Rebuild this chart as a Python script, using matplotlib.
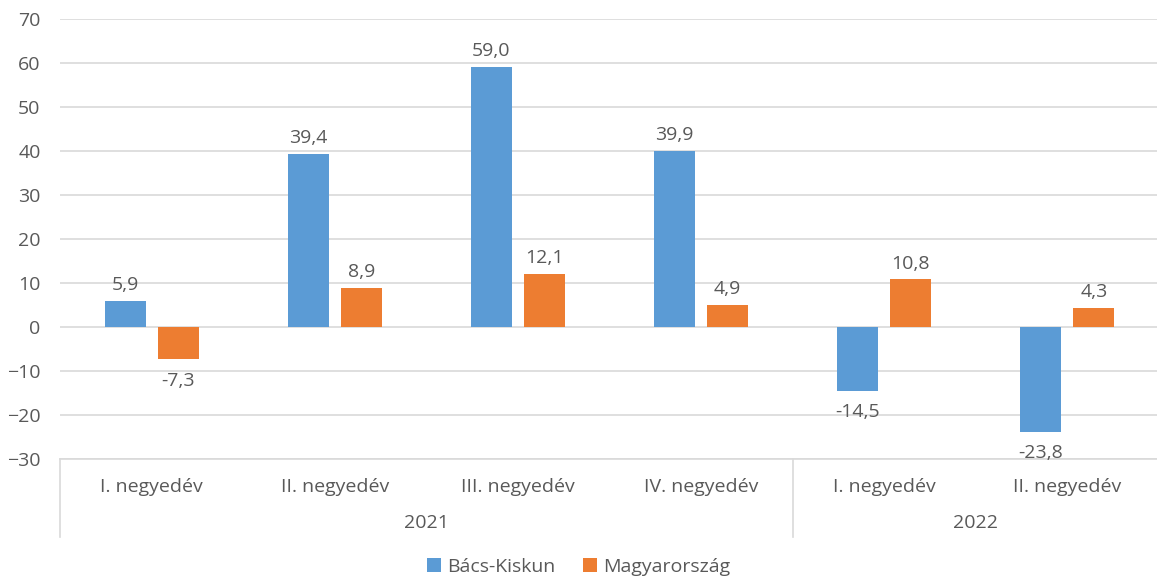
import matplotlib.pyplot as plt
import numpy as np
from matplotlib.transforms import blended_transform_factory

# Adatok
negyedevek = ['I. negyedév', 'II. negyedév', 'III. negyedév', 'IV. negyedév',
              'I. negyedév', 'II. negyedév']
evek = ['2021', '2022']
ev_hossz = [4, 2]
bacs_kiskun = [5.9, 39.4, 59.0, 39.9, -14.5, -23.8]
magyarorszag = [-7.3, 8.9, 12.1, 4.9, 10.8, 4.3]

plt.rcParams['font.family'] = ['Open Sans', 'DejaVu Sans']
szurke = '#595959'
kek = '#5B9BD5'
narancs = '#ED7D31'
fs = 14

W, H = 1157, 576
fig = plt.figure(figsize=(W / 100, H / 100), dpi=100)
# a rajzterület jobb széle kicsit túlnyúlik a képen, mint az eredetiben
ax = fig.add_axes([60 / W, 1 - 459 / H, (1159 - 60) / W, (459 - 19) / H])

x = np.arange(len(negyedevek))
bw = 0.224
off = 0.145
b1 = ax.bar(x - off, bacs_kiskun, bw, color=kek, label='Bács-Kiskun', zorder=3)
b2 = ax.bar(x + off, magyarorszag, bw, color=narancs, label='Magyarország', zorder=3)

# Adatcímkék
for bars, vals in [(b1, bacs_kiskun), (b2, magyarorszag)]:
    for rect, v in zip(bars, vals):
        cx = rect.get_x() + rect.get_width() / 2
        txt = f'{v:.1f}'.replace('.', ',')
        if v >= 0:
            ax.annotate(txt, (cx, v), xytext=(0, 5), textcoords='offset points',
                        ha='center', va='bottom', fontsize=fs, color=szurke)
        else:
            ax.annotate(txt, (cx, v), xytext=(0, -9), textcoords='offset points',
                        ha='center', va='top', fontsize=fs, color=szurke)

ax.set_xlim(-0.5, len(negyedevek) - 0.5)
ax.set_ylim(-30, 70)
ax.set_yticks(range(-30, 71, 10))
ax.yaxis.grid(True, color='#D9D9D9', linewidth=1.2, zorder=0)
ax.tick_params(axis='y', length=0, labelsize=fs, labelcolor=szurke, pad=14)
ax.set_xticks([])
for s in ['top', 'right', 'left']:
    ax.spines[s].set_visible(False)
ax.spines['bottom'].set_color('#D9D9D9')
ax.spines['bottom'].set_linewidth(1.2)

# Kétszintű x tengely
tr = blended_transform_factory(ax.transData, ax.transAxes)
px = 1 / (459 - 19)
for i, lab in enumerate(negyedevek):
    ax.text(i, -28 * px, lab, transform=tr, ha='center', va='center',
            fontsize=fs, color=szurke)
start = 0
hatarok = [-0.5]
for ev, n in zip(evek, ev_hossz):
    ax.text(start + (n - 1) / 2, -64 * px, ev, transform=tr, ha='center',
            va='center', fontsize=fs, color=szurke)
    start += n
    hatarok.append(start - 0.5)
for h in hatarok:
    ax.plot([h, h], [0, -78 * px], transform=tr, color='#D9D9D9',
            linewidth=1.2, clip_on=False)

fig.legend(loc='center', bbox_to_anchor=(0.5, 1 - 567 / H), ncol=2, frameon=False,
           fontsize=fs, labelcolor=szurke, handlelength=0.75, handleheight=0.75,
           columnspacing=1.4, handletextpad=0.3)

fig.savefig('out.png', dpi=100)
